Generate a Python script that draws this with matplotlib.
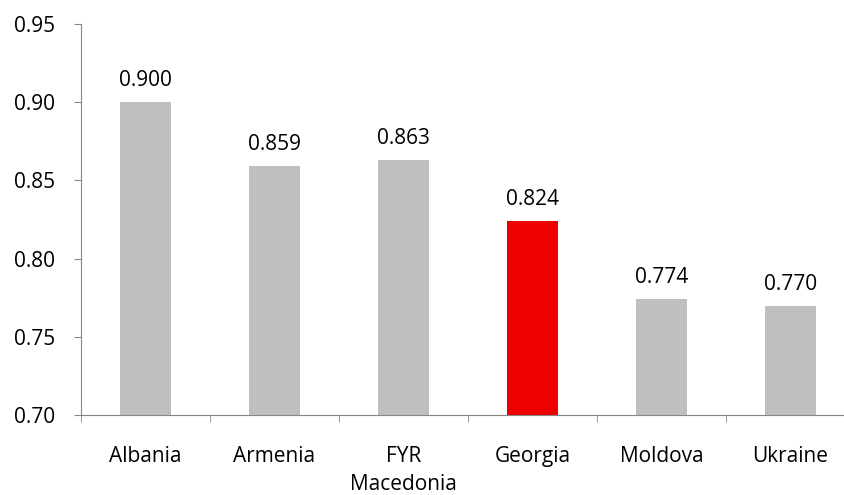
import numpy as np
import matplotlib.pyplot as plt

countries = ['Albania', 'Armenia', 'FYR\nMacedonia', 'Georgia', 'Moldova', 'Ukraine']
values = [0.900, 0.859, 0.863, 0.824, 0.774, 0.770]
colors = ['#bfbfbf', '#bfbfbf', '#bfbfbf', '#ee0000', '#bfbfbf', '#bfbfbf']

plt.rcParams['font.family'] = ['Open Sans', 'DejaVu Sans']
fs = 15

fig = plt.figure(figsize=(8.45, 4.95), dpi=100)
W, H = 845, 495
# axes spans past the right edge, as in the reference crop
ax = fig.add_axes([81 / W, (H - 415) / H, 774 / W, 391 / H])

x = np.arange(len(countries))
ax.bar(x, values, width=0.40, color=colors, zorder=2)
for xi, v in zip(x, values):
    ax.annotate('%.3f' % v, (xi, v), xytext=(0, 11.5), textcoords='offset points',
                ha='center', va='baseline', fontsize=fs)

ax.set_xlim(-0.5, len(countries) - 0.5)
ax.set_ylim(0.70, 0.95)
yt = [0.70, 0.75, 0.80, 0.85, 0.90, 0.95]
ax.set_yticks(yt)
ax.set_yticklabels(['%.2f' % t for t in yt], fontsize=fs)

ax.set_xticks(x)
ax.set_xticklabels(countries, fontsize=fs, linespacing=1.45)
ax.tick_params(axis='x', length=0, pad=22)
ax.set_xticks(np.arange(-0.5, len(countries)), minor=True)
ax.tick_params(axis='x', which='minor', length=5, color='#868686', direction='out')
ax.tick_params(axis='y', length=5, color='#868686', direction='out', pad=13.5)

for s in ['top', 'right']:
    ax.spines[s].set_visible(False)
for s in ['left', 'bottom']:
    ax.spines[s].set_color('#868686')

fig.savefig('out.png', dpi=100)
